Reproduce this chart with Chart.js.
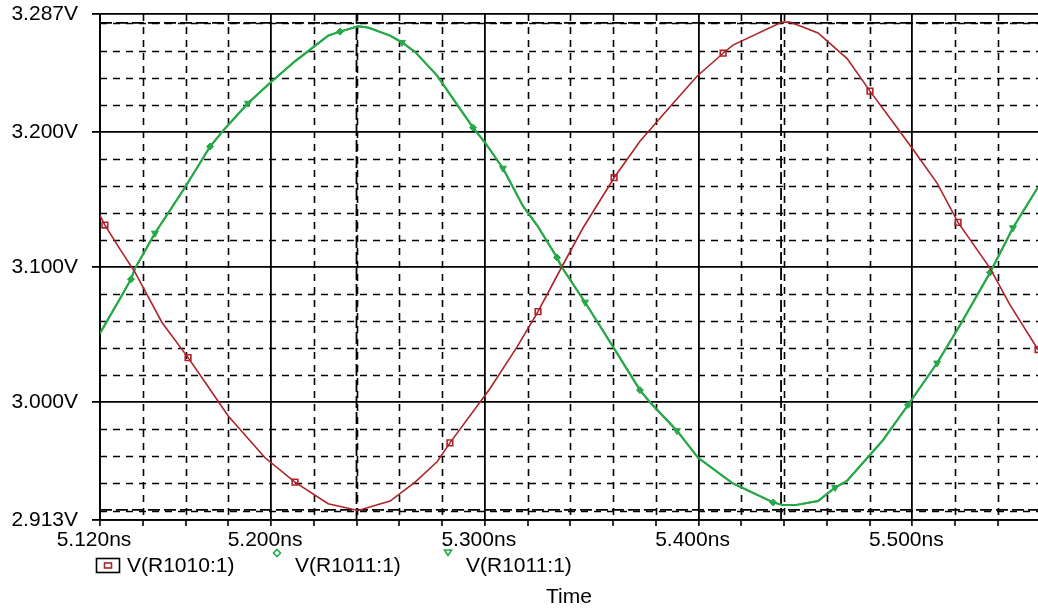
<!DOCTYPE html>
<html>
<head>
<meta charset="utf-8">
<script src="https://cdn.jsdelivr.net/npm/chart.js"></script>
<style>
  html, body { margin: 0; padding: 0; background: #fff; overflow: hidden; }
  canvas { display: block; }
</style>
</head>
<body>
<canvas id="myChart" width="1038" height="614"></canvas>
<script>
// trace names as shown in the legend
const seriesNames = ['V(R1010:1)', 'V(R1011:1)', 'V(R1011:1)'];

// V(R1010:1), time in ns, volts
const redTime = [5.120, 5.1223, 5.1294, 5.1364, 5.149, 5.1612, 5.1691, 5.1799, 5.1972, 5.2112,
  5.2267, 5.2407, 5.2557, 5.2674, 5.2777, 5.2837, 5.3024, 5.3151, 5.3249, 5.336,
  5.346, 5.3605, 5.3726, 5.3881, 5.3993, 5.4115, 5.4161, 5.439, 5.4428, 5.4559,
  5.4695, 5.4802, 5.491, 5.5003, 5.5116, 5.5214, 5.5364, 5.5457, 5.5588];
const redVolts = [3.138, 3.131, 3.113, 3.096, 3.059, 3.033, 3.015, 2.990, 2.959, 2.941,
  2.925, 2.920, 2.927, 2.941, 2.956, 2.970, 3.010, 3.041, 3.067, 3.100,
  3.129, 3.166, 3.193, 3.221, 3.241, 3.258, 3.264, 3.281, 3.281, 3.273,
  3.254, 3.230, 3.207, 3.187, 3.162, 3.133, 3.099, 3.072, 3.039];
const redMarks = [1, 5, 9, 15, 18, 21, 25, 31, 35, 38];

// V(R1011:1)
const greenTime = [5.120, 5.1302, 5.1345, 5.1364, 5.1457, 5.1598, 5.1715, 5.1777, 5.1892, 5.1995,
  5.2112, 5.2267, 5.2323, 5.2407, 5.2454, 5.2557, 5.2613, 5.2674, 5.2777, 5.2945,
  5.3001, 5.3085, 5.3179, 5.3244, 5.3338, 5.336, 5.3469, 5.36, 5.3726, 5.3773,
  5.3899, 5.3998, 5.4161, 5.4349, 5.4396, 5.4452, 5.4559, 5.4639, 5.4695, 5.4863,
  5.498, 5.5116, 5.5223, 5.5364, 5.5471, 5.5588];
const greenVolts = [3.051, 3.079, 3.091, 3.099, 3.125, 3.159, 3.189, 3.201, 3.221, 3.236,
  3.252, 3.271, 3.274, 3.278, 3.277, 3.271, 3.266, 3.259, 3.2415, 3.203,
  3.192, 3.173, 3.145, 3.131, 3.107, 3.100, 3.074, 3.041, 3.009, 3.000,
  2.979, 2.959, 2.940, 2.926, 2.924, 2.924, 2.927, 2.937, 2.942, 2.972,
  2.998, 3.029, 3.057, 3.096, 3.129, 3.159];
const diamondMarks = [2, 6, 12, 19, 24, 28, 33, 40, 43];
const triangleMarks = [4, 8, 16, 21, 26, 30, 37, 41, 44];

// axes
const xMin = 5.12, xMax = 5.5588;
const yMin = 2.913, yMax = 3.287;
const xMajorTicks = [5.12, 5.2, 5.3, 5.4, 5.5];
const xMinorTicks = [5.14, 5.16, 5.18, 5.22, 5.24, 5.26, 5.28, 5.32, 5.34, 5.36, 5.38,
  5.42, 5.44, 5.46, 5.48, 5.52, 5.54];
const yMajorTicks = [2.913, 3.0, 3.1, 3.2, 3.287];
const yMinorTicks = [2.92, 2.94, 2.96, 2.98, 3.02, 3.04, 3.06, 3.08, 3.12, 3.14, 3.16, 3.18,
  3.22, 3.24, 3.26, 3.28];

// cursor lines
const cursorTimes = [5.24, 5.4386];
const cursorVolts = [3.2805, 2.9205];

const RED = '#ae2328';
const GREEN = '#27a849';
const FONT = '"Liberation Sans", Arial, Helvetica, sans-serif';

const pts = (ts, vs) => ts.map((t, i) => ({x: t, y: vs[i]}));
const xAll = xMajorTicks.concat(xMinorTicks).sort((a, b) => a - b);
const isMajor = (list, v) => list.some(m => Math.abs(m - v) < 1e-6);

const cursorSets = [];
cursorTimes.forEach(t => cursorSets.push({
  data: [{x: t, y: yMin}, {x: t, y: yMax}],
  borderColor: '#000', borderWidth: 1.8, borderDash: [12, 4], pointRadius: 0, order: 2
}));
cursorVolts.forEach(v => cursorSets.push({
  data: [{x: xMin, y: v}, {x: xMax, y: v}],
  borderColor: '#000', borderWidth: 1.8, borderDash: [12, 4], pointRadius: 0, order: 2
}));

// dashed minor grid, placed through the chart's own scales
const minorGrid = {
  id: 'minorGrid',
  beforeDatasetsDraw(chart) {
    const {ctx, chartArea: a, scales: {x, y}} = chart;
    ctx.save();
    ctx.beginPath();
    ctx.rect(a.left, a.top, a.right - a.left, a.bottom - a.top);
    ctx.clip();
    ctx.strokeStyle = '#000';
    ctx.lineWidth = 1.6;
    ctx.setLineDash([7, 6]);
    ctx.beginPath();
    xMinorTicks.forEach(v => {
      const px = Math.round(x.getPixelForValue(v)) + 0.5;
      ctx.moveTo(px, a.top); ctx.lineTo(px, a.bottom);
    });
    yMinorTicks.forEach(v => {
      const py = Math.round(y.getPixelForValue(v)) + 0.5;
      ctx.moveTo(a.left, py); ctx.lineTo(a.right, py);
    });
    ctx.stroke();
    ctx.restore();
  }
};

const legendPlugin = {
  id: 'spiceLegend',
  afterDraw(chart) {
    const ctx = chart.ctx;
    const names = chart.data.datasets.slice(0, 3).map(d => d.label);
    ctx.save();
    ctx.font = '21px ' + FONT;
    ctx.fillStyle = '#000';
    ctx.textBaseline = 'middle';
    // red: boxed square
    ctx.lineWidth = 1.6;
    ctx.strokeStyle = '#000';
    ctx.strokeRect(96.5, 558.5, 23, 14);
    ctx.strokeStyle = RED;
    ctx.strokeRect(104.5, 563, 7, 5);
    ctx.fillText(names[0], 127, 566);
    // green diamond
    ctx.strokeStyle = GREEN;
    ctx.beginPath();
    ctx.moveTo(277, 549.5); ctx.lineTo(280.5, 553); ctx.lineTo(277, 556.5); ctx.lineTo(273.5, 553);
    ctx.closePath(); ctx.stroke();
    ctx.fillText(names[1], 295, 566);
    // green triangle
    ctx.beginPath();
    ctx.moveTo(444.5, 550); ctx.lineTo(451.5, 550); ctx.lineTo(448, 555.5);
    ctx.closePath(); ctx.stroke();
    ctx.fillText(names[2], 466, 566);
    ctx.restore();
  }
};

new Chart(document.getElementById('myChart'), {
  type: 'line',
  data: {
    datasets: [{
      label: seriesNames[0],
      data: pts(redTime, redVolts),
      borderColor: RED, borderWidth: 1.6, tension: 0,
      pointStyle: 'rect',
      pointRadius: c => redMarks.includes(c.dataIndex) ? 4 : 0,
      pointBorderColor: RED, pointBackgroundColor: 'rgba(255,255,255,0)', pointBorderWidth: 1.6,
      order: 0
    }, {
      label: seriesNames[1],
      data: pts(greenTime, greenVolts),
      borderColor: GREEN, borderWidth: 2, tension: 0,
      pointStyle: 'rectRot',
      pointRadius: c => diamondMarks.includes(c.dataIndex) ? 3.5 : 0,
      pointBorderColor: GREEN, pointBackgroundColor: GREEN, pointBorderWidth: 1,
      order: 0
    }, {
      label: seriesNames[2],
      data: pts(greenTime, greenVolts),
      borderColor: GREEN, borderWidth: 2, tension: 0,
      pointStyle: 'triangle', rotation: 180,
      pointRadius: c => triangleMarks.includes(c.dataIndex) ? 4 : 0,
      pointBorderColor: GREEN, pointBackgroundColor: GREEN, pointBorderWidth: 1,
      order: 0
    }].concat(cursorSets)
  },
  options: {
    responsive: false,
    animation: false,
    layout: {autoPadding: false, padding: {top: 14, left: 0, right: 0, bottom: 0}},
    plugins: {legend: {display: false}, tooltip: {enabled: false}},
    scales: {
      x: {
        type: 'linear', position: 'bottom', min: xMin, max: xMax,
        afterBuildTicks: s => { s.ticks = xAll.map(v => ({value: v})); },
        afterFit: s => { s.height = 94; s.paddingLeft = 0; s.paddingRight = 0; },
        ticks: {
          autoSkip: false, maxRotation: 0, padding: 2, labelOffset: -6,
          color: '#000', font: {family: FONT, size: 21},
          callback: v => isMajor(xMajorTicks, v) ? v.toFixed(3) + 'ns' : ''
        },
        grid: {
          color: '#000', tickColor: '#000', tickLength: 6, tickWidth: 1.6,
          lineWidth: c => (c.tick && isMajor(xMajorTicks, c.tick.value)) ? 1.8 : 0
        },
        border: {display: true, color: '#000', width: 1.8},
        title: {display: true, text: 'Time', color: '#000', font: {family: FONT, size: 21},
          padding: {top: 0, bottom: 4}}
      },
      y: {
        type: 'linear', position: 'left', min: yMin, max: yMax,
        afterBuildTicks: s => { s.ticks = yMajorTicks.map(v => ({value: v})); },
        afterFit: s => { s.width = 100; s.paddingTop = 0; s.paddingBottom = 0; },
        ticks: {
          autoSkip: false, padding: 14, color: '#000', font: {family: FONT, size: 21},
          callback: v => v.toFixed(3) + 'V'
        },
        grid: {color: '#000', lineWidth: 1.8, tickLength: 8, tickWidth: 1.8, tickColor: '#000'},
        border: {display: true, color: '#000', width: 1.8}
      }
    }
  },
  plugins: [minorGrid, legendPlugin]
});
</script>
</body>
</html>
